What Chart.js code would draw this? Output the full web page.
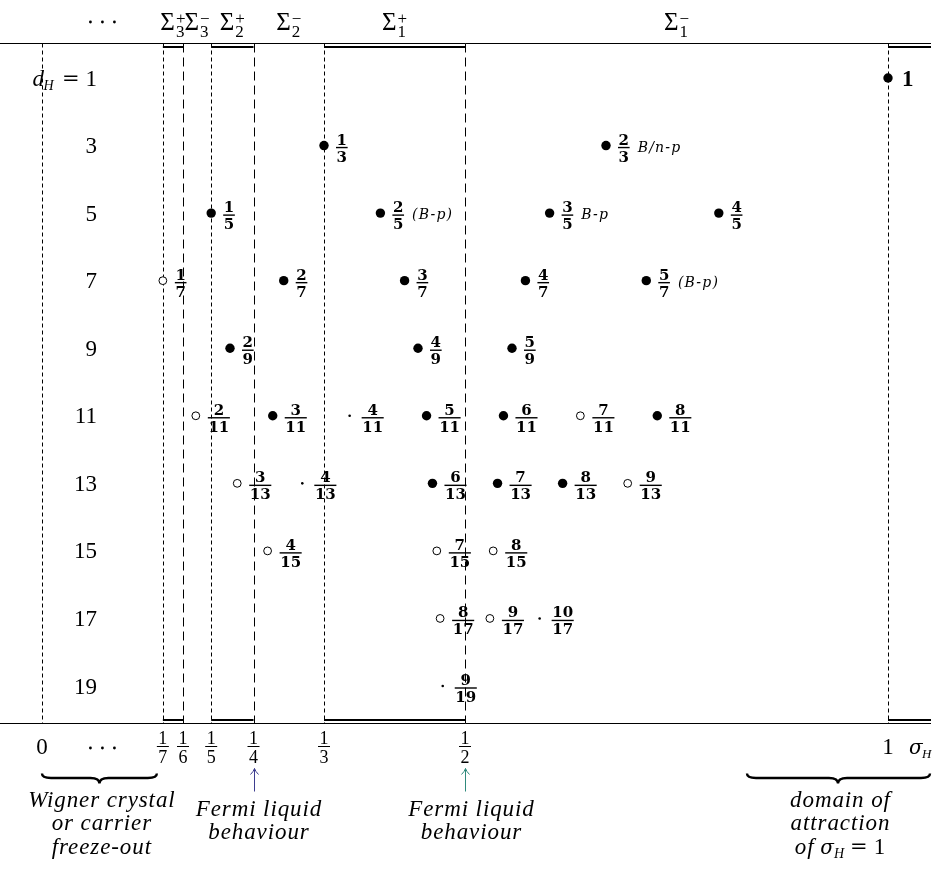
<!DOCTYPE html>
<html><head><meta charset="utf-8">
<script src="https://cdn.jsdelivr.net/npm/chart.js@4/dist/chart.umd.min.js"></script>
<style>html,body{margin:0;padding:0;background:#fff;overflow:hidden}canvas{display:block}</style>
</head><body>
<canvas id="c" width="946" height="874"></canvas>
<script>
// ---------- data ----------
const rowDims = [1, 3, 5, 7, 9, 11, 13, 15, 17, 19];
const filledFractions = [[1,1],[1,3],[2,3],[1,5],[2,5],[3,5],[4,5],[2,7],[3,7],[4,7],[5,7],[2,9],[4,9],[5,9],[3,11],[5,11],[6,11],[8,11],[6,13],[7,13],[8,13]];
const openFractions = [[1,7],[2,11],[7,11],[3,13],[9,13],[4,15],[7,15],[8,15],[8,17],[9,17]];
const dotFractions = [[4,11],[4,13],[10,17],[9,19]];
const fractionNotes = [["2/3","B/n-p"],["2/5","(B-p)"],["3/5","B-p"],["5/7","(B-p)"]];
const axisFractions = [[1,7],[1,6],[1,5],[1,4],[1,3],[1,2]];
const fineBoundaries = [0, 1/7, 1/5, 1/3, 1];
const longBoundaries = [1/6, 1/4, 1/2];
const thickRanges = [[1/7,1/6],[1/5,1/4],[1/3,1/2]];
const sectorLabels = [["3","+",1/7,1/6],["3","\u2212",1/6,1/5],["2","+",1/5,1/4],["2","\u2212",1/4,1/3],["1","+",1/3,1/2],["1","\u2212",1/2,1]];
const fermiArrows = [1/4, 1/2];

// ---------- layout ----------
const SERIF = '"Liberation Serif", "DejaVu Serif", serif';
const DSERIF = '"DejaVu Serif", serif';
const X_MIN = -42/846, X_MAX = X_MIN + 946/846;
const ROW_PX = 608/18;
const Y_MIN = 1 - 78/ROW_PX, Y_MAX = Y_MIN + 874/ROW_PX;

function toPts(list){ return list.map(([n,d]) => ({x:n/d, y:d, n:n, d:d})); }

function runsWidth(ctx, runs){
  let w = 0;
  for (const r of runs){ ctx.font = r.font; ctx.letterSpacing='0px'; w += ctx.measureText(r.t).width + (r.ls||0)*(r.t.length-1) + (r.gap||0); }
  return w;
}
function drawRuns(ctx, runs, x, base, align){
  const w = runsWidth(ctx, runs);
  let cx = align==='center' ? x - w/2 : (align==='right' ? x - w : x);
  for (const r of runs){
    ctx.font = r.font; ctx.letterSpacing = (r.ls||0)+'px';
    ctx.textAlign='left'; ctx.textBaseline='alphabetic';
    ctx.fillText(r.t, cx, base + (r.dy||0));
    ctx.letterSpacing='0px';
    cx += ctx.measureText(r.t).width + (r.ls||0)*(r.t.length-1) + (r.gap||0);
  }
  return w;
}
function txtW(ctx, s, font, ls){ ctx.font=font; ctx.letterSpacing='0px'; return ctx.measureText(s).width + (ls||0)*(s.length-1); }
function drawFrac(ctx, left, barY, num, den, font, ls, numBase, denBase, pad, barH){
  const sn = String(num), sd = String(den);
  const wn = txtW(ctx, sn, font, ls), wd = txtW(ctx, sd, font, ls);
  const w = Math.max(wn, wd) + pad;
  ctx.fillRect(left, barY - barH/2, w, barH);
  drawRuns(ctx, [{t:sn, font, ls}], left + (w - wn)/2, barY - numBase, 'left');
  drawRuns(ctx, [{t:sd, font, ls}], left + (w - wd)/2, barY + denBase, 'left');
  return w;
}
function brace(ctx, x0, x1, xt, yEnd, yMid, yTip){
  const r = 9;
  ctx.beginPath();
  ctx.moveTo(x0, yEnd);
  ctx.quadraticCurveTo(x0, yMid, x0 + r, yMid);
  ctx.lineTo(xt - r, yMid);
  ctx.quadraticCurveTo(xt, yMid, xt, yTip);
  ctx.quadraticCurveTo(xt, yMid, xt + r, yMid);
  ctx.lineTo(x1 - r, yMid);
  ctx.quadraticCurveTo(x1, yMid, x1, yEnd);
  ctx.stroke();
}

const diagram = {
  id: 'diagram',
  beforeDraw(chart){
    const ctx = chart.ctx; ctx.save(); ctx.fillStyle='#fff'; ctx.fillRect(0,0,chart.width,chart.height); ctx.restore();
  },
  beforeDatasetsDraw(chart){
    const ctx = chart.ctx, xs = chart.scales.x, ys = chart.scales.y;
    const px = v => xs.getPixelForValue(v), py = v => ys.getPixelForValue(v);
    const top = Math.round(py(1) - 35) + 0.5, bot = Math.round(py(19) + 37) + 0.5;
    const xEnd = px(1) + 43;
    ctx.save();
    ctx.strokeStyle = '#000';
    ctx.lineWidth = 1;
    ctx.beginPath(); ctx.moveTo(0, top); ctx.lineTo(xEnd, top); ctx.moveTo(0, bot); ctx.lineTo(xEnd, bot); ctx.stroke();
    ctx.lineWidth = 2.2;
    const segs = thickRanges.map(r => [px(r[0]), px(r[1])]).concat([[px(1), xEnd]]);
    for (const [a,b] of segs){
      ctx.beginPath(); ctx.moveTo(a, top + 3.5); ctx.lineTo(b, top + 3.5); ctx.moveTo(a, bot - 3.5); ctx.lineTo(b, bot - 3.5); ctx.stroke();
    }
    ctx.lineWidth = 1;
    ctx.setLineDash([4, 3]);
    for (const v of fineBoundaries){ const x = Math.round(px(v)) + 0.5; ctx.beginPath(); ctx.moveTo(x, top); ctx.lineTo(x, bot); ctx.stroke(); }
    ctx.setLineDash([9, 5]);
    for (const v of longBoundaries){ const x = Math.round(px(v)) + 0.5; ctx.beginPath(); ctx.moveTo(x, top); ctx.lineTo(x, bot); ctx.stroke(); }
    ctx.setLineDash([]);
    ctx.restore();
  },
  afterDatasetsDraw(chart){
    const ctx = chart.ctx, xs = chart.scales.x, ys = chart.scales.y;
    const px = v => xs.getPixelForValue(v), py = v => ys.getPixelForValue(v);
    const top = Math.round(py(1) - 35) + 0.5, bot = Math.round(py(19) + 37) + 0.5;
    ctx.save();
    ctx.fillStyle = '#000'; ctx.strokeStyle = '#000';
    const F = (s, st) => (st ? st + ' ' : '') + s + 'px ' + SERIF;
    const D = (s, st) => (st ? st + ' ' : '') + s + 'px ' + DSERIF;

    // sector labels on top
    for (const [sub, sup, a, b] of sectorLabels){
      const c = px((a + b)/2);
      const wS = txtW(ctx, '\u03A3', F(25)), wSub = txtW(ctx, sub, F(17)), wSup = txtW(ctx, sup, F(17));
      const w = wS + 1 + Math.max(wSub, wSup);
      const l = c - w/2;
      drawRuns(ctx, [{t:'\u03A3', font:F(25)}], l, top - 14, 'left');
      drawRuns(ctx, [{t:sub, font:F(17)}], l + wS + 1, top - 7, 'left');
      drawRuns(ctx, [{t:sup, font:F(17)}], l + wS + 1, top - 20, 'left');
    }
    // cdots top and bottom
    const cdx = px(1/14);
    for (const k of [-12, 0, 12]){
      ctx.beginPath(); ctx.arc(cdx + k, top - 21.5, 1.4, 0, Math.PI*2); ctx.fill();
      ctx.beginPath(); ctx.arc(cdx + k, bot + 24.5, 1.4, 0, Math.PI*2); ctx.fill();
    }

    // row labels
    for (const d of rowDims){
      const base = py(d) + 7.5;
      if (d === 1){
        drawRuns(ctx, [{t:'1', font:F(23)}], 97, base, 'right');
        drawRuns(ctx, [{t:'=', font:D(21)}], 62, base - 1, 'left');
        drawRuns(ctx, [{t:'H', font:F(14,'italic')}], 43.5, base + 4, 'left');
        drawRuns(ctx, [{t:'d', font:F(23,'italic')}], 44, base, 'right');
      } else {
        drawRuns(ctx, [{t:String(d), font:F(23)}], 97, base, 'right');
      }
    }

    // point labels
    const notes = Object.fromEntries(fractionNotes);
    const allPts = filledFractions.concat(openFractions, dotFractions);
    for (const [n, d] of allPts){
      const x = px(n/d), y = py(d);
      if (d === 1){
        drawRuns(ctx, [{t:String(n), font:F(23,'bold')}], x + 14, y + 8, 'left');
        continue;
      }
      const w = drawFrac(ctx, x + 12, y + 2, n, d, D(15,'bold'), 0, 3, 14, 1.2, 1.4);
      const note = notes[n + '/' + d];
      if (note){
        drawRuns(ctx, [{t:note, font:D(14,'italic'), ls:1.2}], x + 12 + w + 8, y + 6, 'left');
      }
    }

    // bottom axis labels
    drawRuns(ctx, [{t:'0', font:F(23)}], px(0), bot + 30, 'center');
    drawRuns(ctx, [{t:'1', font:F(23)}], px(1), bot + 30, 'center');
    drawRuns(ctx, [{t:'\u03C3', font:D(20,'italic')}], px(1) + 21, bot + 30, 'left');
    drawRuns(ctx, [{t:'H', font:F(13,'italic')}], px(1) + 34, bot + 34, 'left');
    for (const [n, d] of axisFractions){
      const f = F(18);
      const w = Math.max(txtW(ctx, String(n), f), txtW(ctx, String(d), f)) + 3;
      drawFrac(ctx, px(n/d) - w/2, bot + 23, n, d, f, 0, 3, 16.5, 3, 1);
    }

    // arrows
    const arrowCols = ['#3d3d8f', '#2f8a7c'];
    fermiArrows.forEach((v, i) => {
      const x = Math.round(px(v)) + 0.5;
      ctx.strokeStyle = arrowCols[i]; ctx.lineWidth = 1;
      ctx.beginPath(); ctx.moveTo(x, bot + 68); ctx.lineTo(x, bot + 45);
      ctx.moveTo(x - 4, bot + 51); ctx.quadraticCurveTo(x - 1, bot + 48, x, bot + 45);
      ctx.quadraticCurveTo(x + 1, bot + 48, x + 4, bot + 51);
      ctx.stroke();
    });
    ctx.strokeStyle = '#000';

    // braces
    ctx.lineWidth = 2.4;
    brace(ctx, px(0), px(1/7) - 6, px(1/14) - 3, bot + 50, bot + 54.5, bot + 60);
    brace(ctx, px(1) - 141, px(1) + 42, px(1) - 50, bot + 50, bot + 54.5, bot + 60);

    // italic annotations
    const it = F(23, 'italic');
    const lines = (arr, cx, b0) => arr.forEach((s, i) => drawRuns(ctx, [{t:s, font:it, ls:0.9}], cx, b0 + i*23.5, 'center'));
    lines(['Wigner crystal', 'or carrier', 'freeze-out'], px(1/14) - 1, bot + 83);
    lines(['Fermi liquid', 'behaviour'], px(1/4) + 5, bot + 92);
    lines(['Fermi liquid', 'behaviour'], px(1/2) + 6, bot + 92);
    lines(['domain of', 'attraction'], px(1) - 48, bot + 83);
    drawRuns(ctx, [{t:'of ', font:it, ls:0.9}, {t:'\u03C3', font:D(20,'italic')}, {t:'H', font:F(14,'italic'), dy:4, gap:6}, {t:'=', font:D(21), gap:6, dy:-1}, {t:'1', font:F(23)}], px(1) - 48, bot + 130, 'center');

    ctx.restore();
  }
};

new Chart(document.getElementById('c'), {
  type: 'scatter',
  data: {
    datasets: [
      { label: 'filled', data: toPts(filledFractions), pointRadius: 4.7, pointBackgroundColor: '#000', pointBorderWidth: 0, pointBorderColor: '#000', clip: false },
      { label: 'open', data: toPts(openFractions), pointRadius: 3.9, pointBackgroundColor: '#fff', pointBorderWidth: 1, pointBorderColor: '#000', clip: false },
      { label: 'dot', data: toPts(dotFractions), pointRadius: 1.3, pointBackgroundColor: '#000', pointBorderWidth: 0, clip: false }
    ]
  },
  options: {
    responsive: false, animation: false, events: [],
    layout: { padding: 0, autoPadding: false },
    plugins: { legend: { display: false }, tooltip: { enabled: false } },
    scales: {
      x: { type: 'linear', display: false, min: X_MIN, max: X_MAX },
      y: { type: 'linear', display: false, reverse: true, min: Y_MIN, max: Y_MAX }
    }
  },
  plugins: [diagram]
});
</script>
</body></html>
